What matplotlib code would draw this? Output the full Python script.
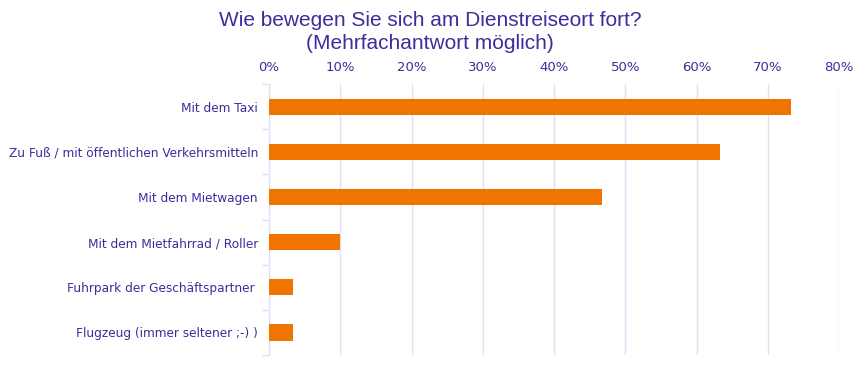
import matplotlib
matplotlib.use("Agg")
import matplotlib.pyplot as plt
from matplotlib.ticker import FuncFormatter

categories = ["Mit dem Taxi", "Zu Fuß / mit öffentlichen Verkehrsmitteln", "Mit dem Mietwagen",
              "Mit dem Mietfahrrad / Roller", "Fuhrpark der Geschäftspartner ", "Flugzeug (immer seltener ;-) )"]
values = [73.3, 63.3, 46.7, 10.0, 3.3, 3.3]
xticks = [0, 10, 20, 30, 40, 50, 60, 70, 80]

text_color = "#3A2E9C"
bar_color = "#F07400"
grid_color = "#E2DFF5"

fig = plt.figure(figsize=(8.65, 3.67), dpi=100)
ax = fig.add_axes([0.311, 0.0327, 0.659, 0.738])
y = list(range(len(categories)))
ax.barh(y, values, height=0.36, color=bar_color, zorder=3)
ax.set_ylim(len(categories) - 0.5, -0.5)
ax.set_xlim(0, 80)
ax.set_xticks(xticks)
ax.xaxis.set_major_formatter(FuncFormatter(lambda v, p: f"{int(v)}%"))
ax.xaxis.tick_top()
ax.tick_params(axis="x", length=0, colors=text_color, labelsize=9.5, pad=7)
ax.set_yticks(y)
ax.set_yticklabels(categories)
ax.tick_params(axis="y", length=0, colors=text_color, labelsize=8.7, pad=8)
ax.set_yticks([i + 0.5 for i in range(-1, len(categories))], minor=True)
ax.tick_params(axis="y", which="minor", length=5, color=grid_color, width=1)
for s in ["top", "right", "bottom"]:
    ax.spines[s].set_visible(False)
ax.spines["left"].set_color(grid_color)
ax.grid(axis="x", color=grid_color, linewidth=1, zorder=0)
for lab in ax.get_xticklabels() + ax.get_yticklabels():
    lab.set_fontfamily("DejaVu Sans")
fig.text(0.497, 0.912, "Wie bewegen Sie sich am Dienstreiseort fort?\n(Mehrfachantwort möglich)",
         ha="center", va="center", fontsize=15, color=text_color, family="Liberation Sans",
         linespacing=1.25)
fig.savefig("out.png", dpi=100, facecolor="white")
